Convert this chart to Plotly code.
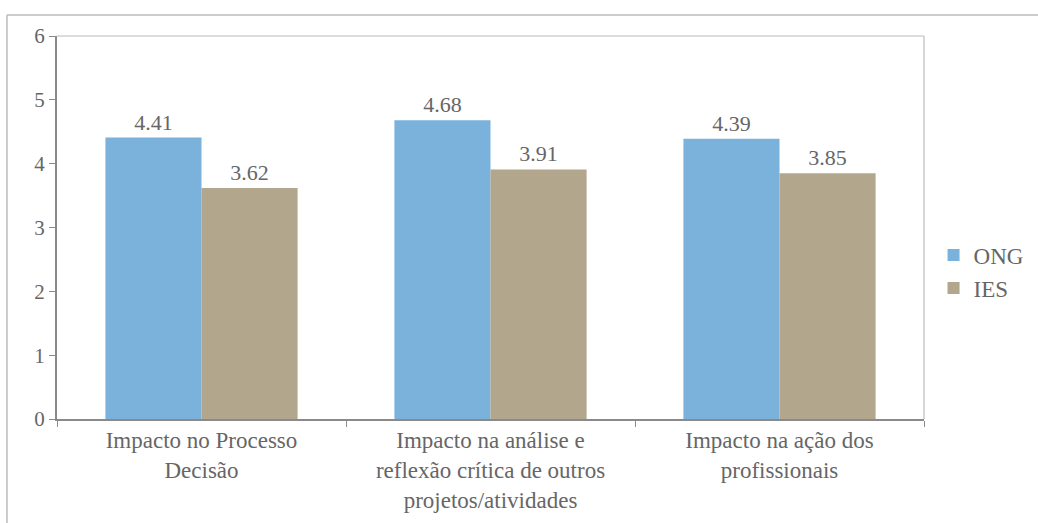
import plotly.graph_objects as go

categorias = [
    "Impacto no Processo<br>Decisão",
    "Impacto na análise e<br>reflexão crítica de outros<br>projetos/atividades",
    "Impacto na ação dos<br>profissionais",
]
ong = [4.41, 4.68, 4.39]
ies = [3.62, 3.91, 3.85]

FONTE = "Liberation Serif"
CINZA = "#666666"

fig = go.Figure()
fig.add_trace(go.Bar(
    name="ONG", x=categorias, y=ong,
    marker_color="#7ab2dc", marker_line_width=0,
    text=[f"{v:.2f}" for v in ong], textposition="outside",
    textfont=dict(family=FONTE, size=22, color=CINZA),
    cliponaxis=False,
))
fig.add_trace(go.Bar(
    name="IES", x=categorias, y=ies,
    marker_color="#b2a68c", marker_line_width=0,
    text=[f"{v:.2f}" for v in ies], textposition="outside",
    textfont=dict(family=FONTE, size=22, color=CINZA),
    cliponaxis=False,
))

fig.update_layout(
    width=1038, height=523,
    margin=dict(l=57, r=114, t=36, b=104, autoexpand=False),
    plot_bgcolor="white", paper_bgcolor="white",
    barmode="group", bargap=0.335, bargroupgap=0,
    font=dict(family=FONTE, size=21, color=CINZA),
    uniformtext=dict(minsize=22, mode="show"),
    legend=dict(
        x=1.011, y=0.385, xanchor="left", yanchor="middle",
        font=dict(family=FONTE, size=23, color=CINZA),
        tracegroupgap=0, itemwidth=30,
    ),
    xaxis=dict(
        showline=True, linecolor="#8a8a8a", linewidth=1.5,
        ticks="outside", tickson="boundaries", ticklen=6, tickcolor="#8a8a8a",
        showgrid=False, tickfont=dict(family=FONTE, size=23, color=CINZA),
    ),
    yaxis=dict(
        range=[0, 6], dtick=1,
        showline=True, linecolor="#8a8a8a", linewidth=2,
        ticks="outside", ticklen=6, tickcolor="#8a8a8a",
        showgrid=False, zeroline=False,
        tickfont=dict(family=FONTE, size=21, color=CINZA),
    ),
    shapes=[
        # linha superior e direita do gráfico
        dict(type="line", xref="paper", yref="paper", x0=0, x1=1, y0=1, y1=1,
             line=dict(color="#d0d0d0", width=1.5)),
        dict(type="line", xref="paper", yref="paper", x0=1, x1=1, y0=0, y1=1,
             line=dict(color="#c8c8c8", width=1.5)),
        # moldura externa
        dict(type="line", xref="paper", yref="paper", x0=-0.0577, x1=1.2, y0=1.0548, y1=1.0548,
             line=dict(color="#bbbbbb", width=1.5)),
        dict(type="line", xref="paper", yref="paper", x0=-0.0577, x1=-0.0577, y0=-0.3, y1=1.0548,
             line=dict(color="#bbbbbb", width=1.5)),
    ],
)

fig.write_html("out.html", post_script="document.body.style.margin='0';",
               config={"displayModeBar": False})
